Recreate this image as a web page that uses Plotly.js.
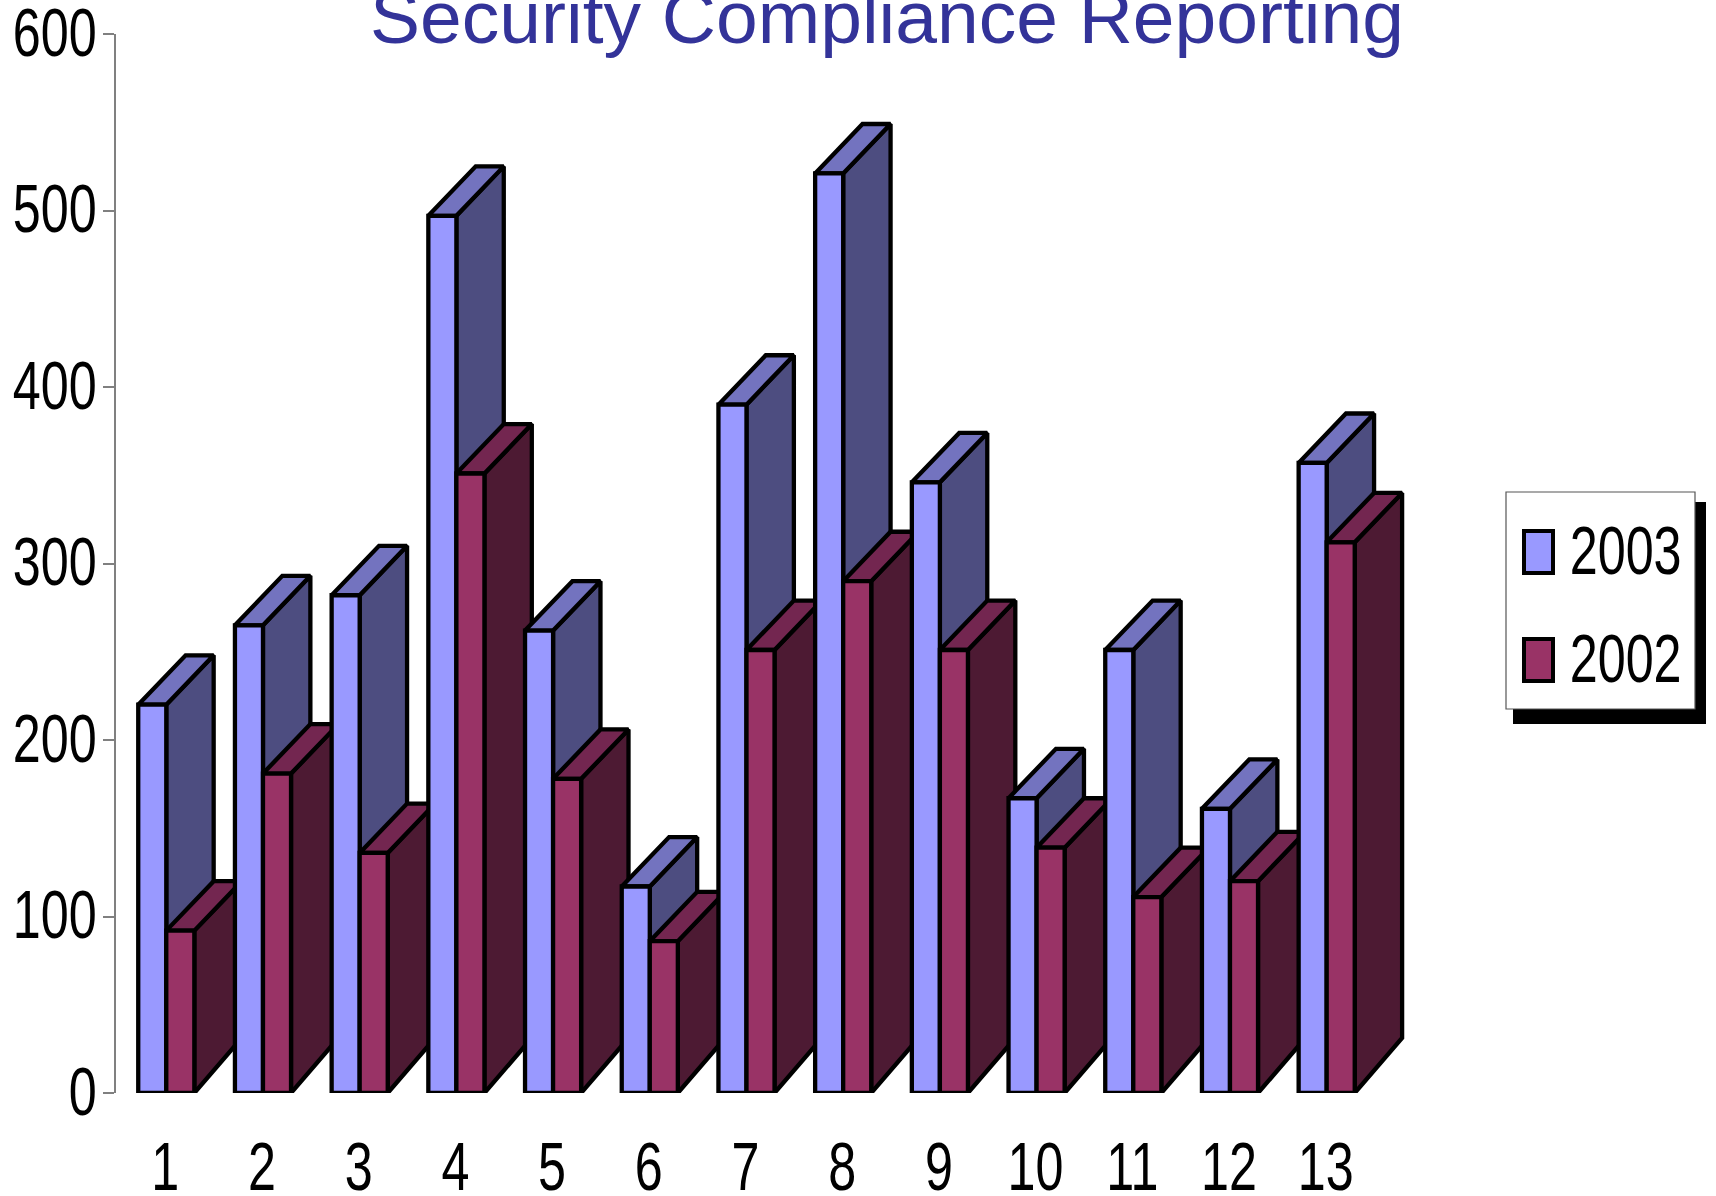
<!DOCTYPE html>
<html>
<head>
<meta charset="utf-8">
<script src="https://cdn.plot.ly/plotly-3.0.1.min.js"></script>
<style>html,body{margin:0;padding:0;background:#fff}#chart{width:1716px;height:1196px}</style>
</head>
<body>
<div id="chart"></div>
<script>
const categories = [1,2,3,4,5,6,7,8,9,10,11,12,13];
const values2003 = [220,265,282,497,262,117,390,521,346,167,251,161,357];
const values2002 = [92,181,136,351,178,86,251,290,251,139,111,120,312];
const seriesNames = ['2003','2002'];
const yTicks = [0,100,200,300,400,500,600];
const titleText = 'Security Compliance Reporting';

const W=1716,H=1196,L=116,R=1420,T=34,B=1093;
const barW=0.29, depthX=0.49, depthTop=28, depthBottom=31.2;
const xRange=[0.48,13.965], yRange=[0,600];
const front=['#9999FF','#993366'], side=['#4D4D80','#4D1A33'], top_=['#7373BF','#732650'];
const sans='"Liberation Sans",Arial,sans-serif';
const LW=4.3;

const traces=[];
categories.forEach((c,i)=>{
  [values2003,values2002].forEach((vals,s)=>{
    const v=vals[i];
    const x0=c+(s===0?-barW:0), x1=x0+barW;
    traces.push({type:'scatter',mode:'lines',x:[x1,x1+depthX,x1+depthX,x1,x1],
      y:[0,depthBottom,v+depthTop,v,0],fill:'toself',fillcolor:side[s],
      line:{color:'#000',width:LW},cliponaxis:false,showlegend:false,hoverinfo:'skip'});
    traces.push({type:'scatter',mode:'lines',x:[x0,x1,x1+depthX,x0+depthX,x0],
      y:[v,v,v+depthTop,v+depthTop,v],fill:'toself',fillcolor:top_[s],
      line:{color:'#000',width:LW},cliponaxis:false,showlegend:false,hoverinfo:'skip'});
  });
});
[values2003,values2002].forEach((vals,s)=>{
  traces.push({type:'bar',name:seriesNames[s],x:categories,y:vals,xaxis:'x2',yaxis:'y2',
    marker:{color:front[s],line:{color:'#000',width:LW}},cliponaxis:false,showlegend:false});
});

const px=x=>(x-L)/(R-L), py=y=>(B-y)/(B-T);
const rect=(x0,y0,x1,y1,fill,line,lw)=>({type:'rect',xref:'paper',yref:'paper',x0:px(x0),x1:px(x1),
  y0:py(y1),y1:py(y0),fillcolor:fill,line:{color:line,width:lw}});
const shapes=[
  rect(1513,502,1706,724,'#000','#000',0),
  rect(1506,492,1695,709,'#fff','#555',1.2),
  rect(1524,531,1553,573,front[0],'#000',4),
  rect(1524,639,1553,681,front[1],'#000',4)
];
const annotations=seriesNames.map((n,s)=>({xref:'paper',yref:'paper',x:px(1626),y:py(s===0?550:658),
  text:n,showarrow:false,xanchor:'center',yanchor:'middle',font:{family:sans,size:68,color:'#000'}}));

const layout={
  width:W,height:H,autosize:false,paper_bgcolor:'#fff',plot_bgcolor:'rgba(0,0,0,0)',
  margin:{l:L,r:W-R,t:T,b:H-B,pad:0},showlegend:false,barmode:'group',bargap:1-2*barW,bargroupgap:0,
  title:{text:titleText,font:{family:sans,size:75,color:'#333399'},
    x:887/W,xanchor:'center',xref:'container',y:(H-43)/H,yref:'container',yanchor:'bottom'},
  xaxis:{range:xRange,tickmode:'array',tickvals:categories,ticktext:categories.map(String),showgrid:false,zeroline:false,
    showline:false,ticks:'outside',ticklen:14,tickcolor:'rgba(0,0,0,0)',ticklabeloverflow:'allow',
    tickfont:{family:sans,size:68,color:'#000'}},
  yaxis:{range:yRange,tickmode:'array',tickvals:yTicks,ticktext:yTicks.map(String),showgrid:false,zeroline:false,
    showline:true,linecolor:'#808080',linewidth:1.5,ticks:'outside',ticklen:11,tickwidth:1.5,tickcolor:'#808080',
    ticklabeloverflow:'allow',tickfont:{family:sans,size:68,color:'#000'}},
  xaxis2:{range:xRange,overlaying:'x',visible:false,anchor:'y2'},
  yaxis2:{range:yRange,overlaying:'y',visible:false,anchor:'x2'},
  shapes,annotations
};
Plotly.newPlot('chart',traces,layout,{displayModeBar:false,responsive:false}).then(gd=>{
  const k=0.74;
  const squeeze=(t,dx,dy)=>{
    const x=parseFloat(t.getAttribute('x'))||0;
    const prev=t.getAttribute('transform')||'';
    t.setAttribute('transform',prev+` translate(${x+dx},${dy}) scale(${k},1) translate(${-x},0)`);
  };
  gd.querySelectorAll('.xtick text,.annotation-text').forEach(t=>squeeze(t,-1,0));
  gd.querySelectorAll('.ytick text').forEach(t=>squeeze(t,7,-2));
});
</script>
</body>
</html>
